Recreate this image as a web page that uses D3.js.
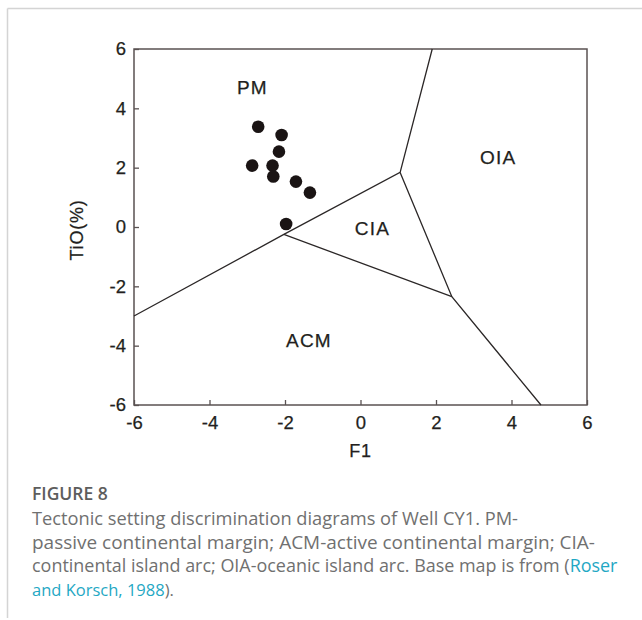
<!DOCTYPE html>
<html lang="en">
<head>
    <meta charset="UTF-8">
    <title>Tectonic setting discrimination diagram</title>
    <script src="https://d3js.org/d3.v7.min.js"></script>
    <style>
        body { margin: 0; background: #fff; }
        .tick line { stroke: #5a5252; stroke-width: 1.3; }
        .field-label { font-family: "Liberation Sans", Arial, sans-serif; font-size: 19px; fill: #231f20; letter-spacing: 1.2px; stroke: #231f20; stroke-width: 0.25px; }
        .axis-label { font-family: "Liberation Sans", Arial, sans-serif; font-size: 18px; fill: #231f20; letter-spacing: 0.8px; stroke: #231f20; stroke-width: 0.25px; }
        .caption { font-family: "Open Sans", Lato, sans-serif; fill: #707070; }
    </style>
</head>
<body>
    <div id="chart"></div>
    <script>
        // sample points (F1, TiO)
        const f1Values = [-2.71, -2.09, -2.16, -2.87, -2.33, -2.31, -1.71, -1.34, -1.97];
        const tioValues = [3.38, 3.10, 2.54, 2.07, 2.07, 1.70, 1.53, 1.16, 0.10];

        // field boundaries of the base map
        const boundaryLines = [
            [[-6, -3.0], [-2.03, -0.25], [1.05, 1.84], [1.9, 6]],
            [[1.05, 1.84], [2.42, -2.35], [4.78, -6]],
            [[-2.03, -0.25], [2.42, -2.35]]
        ];

        const fieldNames = ["PM", "OIA", "CIA", "ACM"];
        const fieldX = [-2.88, 3.63, 0.30, -1.38];
        const fieldY = [4.73, 2.34, -0.04, -3.81];

        const xTicks = [-6, -4, -2, 0, 2, 4, 6];
        const yTicks = [-6, -4, -2, 0, 2, 4, 6];

        const captionLines = [
            "Tectonic setting discrimination diagrams of Well CY1. PM-",
            "passive continental margin; ACM-active continental margin; CIA-",
            "continental island arc; OIA-oceanic island arc. Base map is from (Roser"
        ];

        const W = 642, H = 620;
        const margin = { top: 49, right: 55, bottom: 215, left: 134 };
        const width = W - margin.left - margin.right;
        const height = H - margin.top - margin.bottom;

        const svg = d3.select("#chart")
            .append("svg")
            .attr("width", W)
            .attr("height", H);

        // page border lines
        svg.append("line")
            .attr("x1", 7.5).attr("x2", W).attr("y1", 8.5).attr("y2", 8.5)
            .attr("stroke", "#d4d4d4").attr("stroke-width", 1.5);
        svg.append("line")
            .attr("x1", 7.5).attr("x2", 7.5).attr("y1", 8.5).attr("y2", H - 2)
            .attr("stroke", "#d4d4d4").attr("stroke-width", 1.5);

        const g = svg.append("g")
            .attr("transform", `translate(${margin.left},${margin.top})`);

        const x = d3.scaleLinear().domain([-6, 6]).range([0, width]);
        const y = d3.scaleLinear().domain([-6, 6]).range([height, 0]);

        // axes, ticks pointing inward, plain hyphen for negatives
        const xAxis = g.append("g")
            .attr("transform", `translate(0,${height})`)
            .call(d3.axisBottom(x).tickValues(xTicks).tickFormat(d => String(d))
                .tickSizeInner(-5).tickSizeOuter(0).tickPadding(11));
        xAxis.select(".domain").remove();

        const yAxis = g.append("g")
            .call(d3.axisLeft(y).tickValues(yTicks).tickFormat(d => String(d))
                .tickSizeInner(-5).tickSizeOuter(0).tickPadding(8));
        yAxis.select(".domain").remove();

        g.selectAll(".tick text")
            .attr("font-family", "Liberation Sans, Arial, sans-serif")
            .attr("font-size", 18.5)
            .attr("fill", "#231f20")
            .attr("stroke", "#231f20")
            .attr("stroke-width", 0.25);

        // frame
        g.append("rect")
            .attr("x", 0).attr("y", 0)
            .attr("width", width).attr("height", height)
            .attr("fill", "none")
            .attr("stroke", "#5a5252")
            .attr("stroke-width", 1.5);

        // boundary lines
        const line = d3.line()
            .x(d => x(d[0]))
            .y(d => y(d[1]));

        g.selectAll(".boundary")
            .data(boundaryLines)
            .enter()
            .append("path")
            .attr("class", "boundary")
            .attr("d", line)
            .attr("fill", "none")
            .attr("stroke", "#2b2727")
            .attr("stroke-width", 1.3);

        // field labels
        g.selectAll(".field-label")
            .data(fieldNames)
            .enter()
            .append("text")
            .attr("class", "field-label")
            .attr("x", (d, i) => x(fieldX[i]) + 0.6)
            .attr("y", (d, i) => y(fieldY[i]))
            .attr("text-anchor", "middle")
            .attr("dy", "0.36em")
            .text(d => d);

        // points
        g.selectAll(".dot")
            .data(f1Values)
            .enter()
            .append("circle")
            .attr("class", "dot")
            .attr("cx", d => x(d))
            .attr("cy", (d, i) => y(tioValues[i]))
            .attr("r", 6.3)
            .attr("fill", "#1a1414");

        // axis titles
        g.append("text")
            .attr("class", "axis-label")
            .attr("x", x(0))
            .attr("y", height + 52)
            .attr("text-anchor", "middle")
            .text("F1");

        g.append("text")
            .attr("class", "axis-label")
            .attr("transform", "rotate(-90)")
            .attr("x", -y(-0.1))
            .attr("y", -51)
            .attr("text-anchor", "middle")
            .text("TiO(%)");

        // caption
        svg.append("text")
            .attr("class", "caption")
            .attr("x", 32)
            .attr("y", 500)
            .attr("font-size", 17.5)
            .attr("font-weight", 600)
            .style("fill", "#5d5d5d")
            .text("FIGURE 8");

        svg.selectAll(".caption-line")
            .data(captionLines)
            .enter()
            .append("text")
            .attr("class", "caption caption-line")
            .attr("x", 32)
            .attr("y", (d, i) => 525 + i * 23.7)
            .attr("font-size", 16.5)
            .text(d => d);

        const last = svg.append("text")
            .attr("class", "caption")
            .attr("x", 32)
            .attr("y", 525 + 3 * 23.7)
            .attr("font-size", 16.5);
        last.append("tspan").style("fill", "#1fa8c4").text("and Korsch, 1988");
        last.append("tspan").text(").");

        // the citation in line 3 is a link colour
        const l3 = svg.selectAll(".caption-line").filter((d, i) => i === 2);
        l3.text(null);
        l3.append("tspan").text("continental island arc; OIA-oceanic island arc. Base map is from (");
        l3.append("tspan").style("fill", "#1fa8c4").text("Roser");

        // fit caption lines to the widths seen in the figure
        const targetWidths = [486, 586, 586];
        svg.selectAll(".caption-line").each(function (d, i) {
            const len = this.getComputedTextLength();
            const fs = 16.5 * Math.min(targetWidths[i] / len, 1.15);
            d3.select(this).attr("font-size", fs);
        });
    </script>
</body>
</html>
